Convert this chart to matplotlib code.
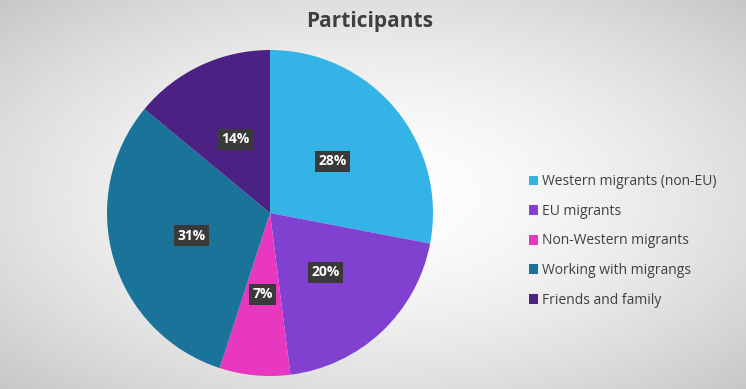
import numpy as np
import matplotlib.pyplot as plt
import matplotlib as mpl

mpl.rcParams['font.family'] = ['Open Sans', 'DejaVu Sans']

# data
labels = ['Western migrants (non-EU)', 'EU migrants', 'Non-Western migrants',
          'Working with migrangs', 'Friends and family']
shares = [28, 20, 7, 31, 14]
colors = ['#33B3E6', '#8040D0', '#E838C0', '#1A7399', '#4B2283']

W, H = 746, 389
fig = plt.figure(figsize=(W / 100, H / 100), dpi=100)

# radial gradient background
bg = fig.add_axes([0, 0, 1, 1])
yy, xx = np.mgrid[0:H, 0:W]
d = np.sqrt(((xx - W / 2) / (W / 2)) ** 2 + ((yy - H / 2) / (H / 2)) ** 2) / np.sqrt(2)
shade = 1.0 - 0.22 * d ** 1.6
bg.imshow(np.dstack([shade, shade, shade]), aspect='auto', extent=[0, 1, 0, 1])
bg.axis('off')

# pie: centre ~ (270, 213), radius ~163 px
r = 163
ax = fig.add_axes([(270 - r) / W, (H - 213 - r) / H, 2 * r / W, 2 * r / H])
wedges, _, autotexts = ax.pie(shares, colors=colors, startangle=90, counterclock=False,
                              autopct='%d%%', pctdistance=0.5,
                              wedgeprops=dict(linewidth=0))
for t in autotexts:
    t.set_color('white')
    t.set_fontsize(10)
    t.set_fontweight('bold')
    t.set_bbox(dict(boxstyle='square,pad=0.25', fc='#3a3a3a', ec='none'))
ax.set_xlim(-1, 1)
ax.set_ylim(-1, 1)
ax.set_aspect('equal')

fig.text(370 / W, 1 - 22 / H, 'Participants', ha='center', va='center',
         fontsize=15, fontweight='bold', color='#404040')

fig.legend(wedges, labels, loc='center left', bbox_to_anchor=(516 / W, 1 - 241 / H),
           frameon=False, fontsize=10, handlelength=0.7, handleheight=0.7,
           handletextpad=0.3, labelspacing=1.05, labelcolor='#404040')

fig.savefig('out.png', dpi=100)
